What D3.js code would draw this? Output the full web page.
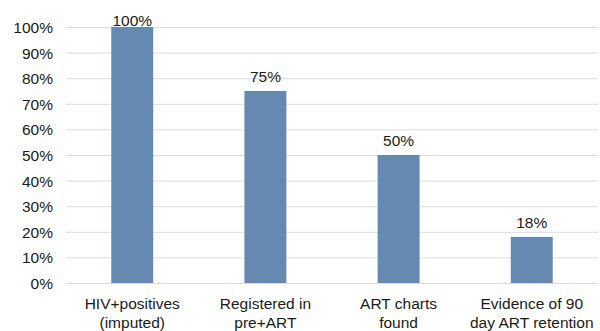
<!DOCTYPE html>
<html>
<head>
<meta charset="utf-8">
<script src="https://cdn.jsdelivr.net/npm/d3@7"></script>
<style>
  body { margin: 0; background: #fff; }
  text { font-family: "Liberation Sans", Arial, sans-serif; fill: #1a1a1a; }
</style>
</head>
<body>
<div id="chart"></div>
<script>
var categories = [["HIV+positives", "(imputed)"], ["Registered in", "pre+ART"], ["ART charts", "found"], ["Evidence of 90", "day ART retention"]];
var values = [100, 75, 50, 18];
var ticks = [0, 10, 20, 30, 40, 50, 60, 70, 80, 90, 100];

var width = 600, height = 331;
var margin = {top: 27, right: 2, bottom: 48, left: 66};
var w = width - margin.left - margin.right;
var h = height - margin.top - margin.bottom;

var svg = d3.select("#chart").append("svg")
    .attr("width", width)
    .attr("height", height)
    .append("g")
    .attr("transform", "translate(" + margin.left + "," + margin.top + ")");

var x = d3.scaleBand()
    .domain(d3.range(values.length))
    .range([0, w])
    .paddingInner(0.685)
    .paddingOuter(0.34);

var y = d3.scaleLinear()
    .domain([0, 100])
    .range([h, 0]);

// gridlines
svg.selectAll(".grid")
    .data(ticks)
    .enter().append("line")
    .attr("x1", 0)
    .attr("x2", w)
    .attr("y1", function(d) { return y(d) + 0.5; })
    .attr("y2", function(d) { return y(d) + 0.5; })
    .attr("stroke", "#dcdcdc")
    .attr("stroke-width", 1);

// y axis labels
var yAxis = svg.append("g")
    .call(d3.axisLeft(y).tickValues(ticks).tickFormat(function(d) { return d + "%"; }).tickSize(0).tickPadding(13));
yAxis.select(".domain").remove();
yAxis.selectAll("text")
    .style("font-size", "15.5px")
    .attr("fill", "#1a1a1a")
    .attr("dy", "0.36em");

svg.selectAll(".bar")
    .data(values)
    .enter().append("rect")
    .attr("x", function(d, i) { return x(i); })
    .attr("width", x.bandwidth())
    .attr("y", function(d) { return y(d); })
    .attr("height", function(d) { return h - y(d); })
    .attr("fill", "#6589b1");

svg.selectAll(".val")
    .data(values)
    .enter().append("text")
    .attr("x", function(d, i) { return x(i) + x.bandwidth() / 2; })
    .attr("y", function(d) { return Math.max(y(d) - 9, -1); })
    .attr("text-anchor", "middle")
    .style("font-size", "15.5px")
    .text(function(d) { return d + "%"; });

var cat = svg.selectAll(".cat")
    .data(categories)
    .enter().append("text")
    .attr("text-anchor", "middle")
    .style("font-size", "15.5px")
    .attr("transform", function(d, i) { return "translate(" + (x(i) + x.bandwidth() / 2) + "," + (h + 26) + ")"; });

cat.selectAll("tspan")
    .data(function(d) { return d; })
    .enter().append("tspan")
    .attr("x", 0)
    .attr("dy", function(d, j) { return j ? 19 : 0; })
    .text(function(d) { return d; });
</script>
</body>
</html>
